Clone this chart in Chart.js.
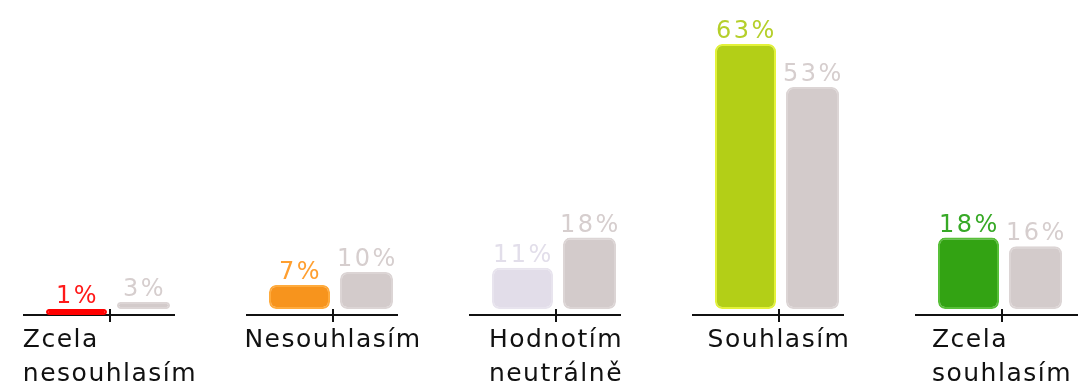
<!DOCTYPE html>
<html>
<head>
  <meta charset="utf-8">
  <title>Hodnocení</title>
  <script src="https://cdn.jsdelivr.net/npm/chart.js"></script>
  <style>
    html, body { margin: 0; padding: 0; background: #fff; }
    #wrap { width: 1078px; height: 385px; }
  </style>
</head>
<body>

<div id="wrap"><canvas id="chart"></canvas></div>

<script>
  // data
  const categories = [['Zcela', 'nesouhlasím'], ['Nesouhlasím'], ['Hodnotím', 'neutrálně'], ['Souhlasím'], ['Zcela', 'souhlasím']];
  const current = [1, 7, 11, 63, 18];
  const previous = [3, 10, 18, 53, 16];

  // colours
  const currentColors = ['#ff0000', '#f7941d', '#e2dde9', '#b3cf17', '#33a313'];
  const currentBorders = ['#ff0000', '#ffab3d', '#e8e4ee', '#e3f23a', '#58c039'];
  const currentLabelColors = ['#ff1a1a', '#ff9f30', '#e2deea', '#b5cf2a', '#37a926'];
  const previousColor = '#d3cbcb';
  const previousBorder = '#dcd5d5';
  const previousLabelColor = '#d6cece';

  const FONT = '"DejaVu Sans", Verdana, sans-serif';

  // axis pieces under each group + left aligned category labels
  const segmentedAxis = {
    id: 'segmentedAxis',
    beforeDatasetsDraw(chart) {
      const { ctx, chartArea } = chart;
      const x = chart.scales.x;
      const y = chartArea.bottom;
      ctx.save();
      ctx.strokeStyle = '#111';
      ctx.lineWidth = 2;
      categories.forEach((lines, i) => {
        const px = Math.round(x.getPixelForValue(i));
        const right = i === categories.length - 1 ? chart.width : px + 65;
        ctx.beginPath();
        ctx.moveTo(px - 87, y);
        ctx.lineTo(right, y);
        ctx.moveTo(px, y - 6);
        ctx.lineTo(px, y + 7);
        ctx.stroke();

        ctx.font = '25px ' + FONT;
        ctx.letterSpacing = '1.5px';
        ctx.fillStyle = '#111';
        ctx.textAlign = 'left';
        ctx.textBaseline = 'alphabetic';
        const w = Math.max(...lines.map(l => ctx.measureText(l).width));
        lines.forEach((l, j) => ctx.fillText(l, px - w / 2, y + 32 + j * 34));
      });
      ctx.restore();
    }
  };

  // percentage over each bar
  const valueLabels = {
    id: 'valueLabels',
    afterDatasetsDraw(chart) {
      const ctx = chart.ctx;
      ctx.save();
      ctx.font = '24px ' + FONT;
      ctx.letterSpacing = '2.5px';
      ctx.textAlign = 'center';
      ctx.textBaseline = 'alphabetic';
      chart.data.datasets.forEach((ds, di) => {
        chart.getDatasetMeta(di).data.forEach((bar, i) => {
          const top = Math.min(bar.y, bar.base);
          ctx.fillStyle = Array.isArray(ds.labelColor) ? ds.labelColor[i] : ds.labelColor;
          ctx.fillText(ds.data[i] + '%', bar.x + 1, top - 6);
        });
      });
      ctx.restore();
    }
  };

  const barStyle = {
    base: 1.4,
    minBarLength: 6,
    borderWidth: 2,
    borderRadius: 7,
    borderSkipped: false,
    categoryPercentage: 134 / 223,
    barPercentage: 1,
    clip: false
  };

  new Chart(document.getElementById('chart'), {
    type: 'bar',
    data: {
      labels: categories,
      datasets: [
        Object.assign({
          label: 'Aktuální',
          data: current,
          backgroundColor: currentColors,
          borderColor: currentBorders,
          labelColor: currentLabelColors,
          maxBarThickness: 61
        }, barStyle),
        Object.assign({
          label: 'Předchozí',
          data: previous,
          backgroundColor: previousColor,
          borderColor: previousBorder,
          labelColor: previousLabelColor,
          maxBarThickness: 53
        }, barStyle)
      ]
    },
    options: {
      responsive: true,
      maintainAspectRatio: false,
      animation: false,
      layout: { padding: { left: 110, right: 76, top: 14, bottom: 70 } },
      plugins: { legend: { display: false }, tooltip: { enabled: false } },
      scales: {
        x: { display: false, offset: false },
        y: { display: false, min: 0, max: 70 }
      }
    },
    plugins: [segmentedAxis, valueLabels]
  });
</script>

</body>
</html>
